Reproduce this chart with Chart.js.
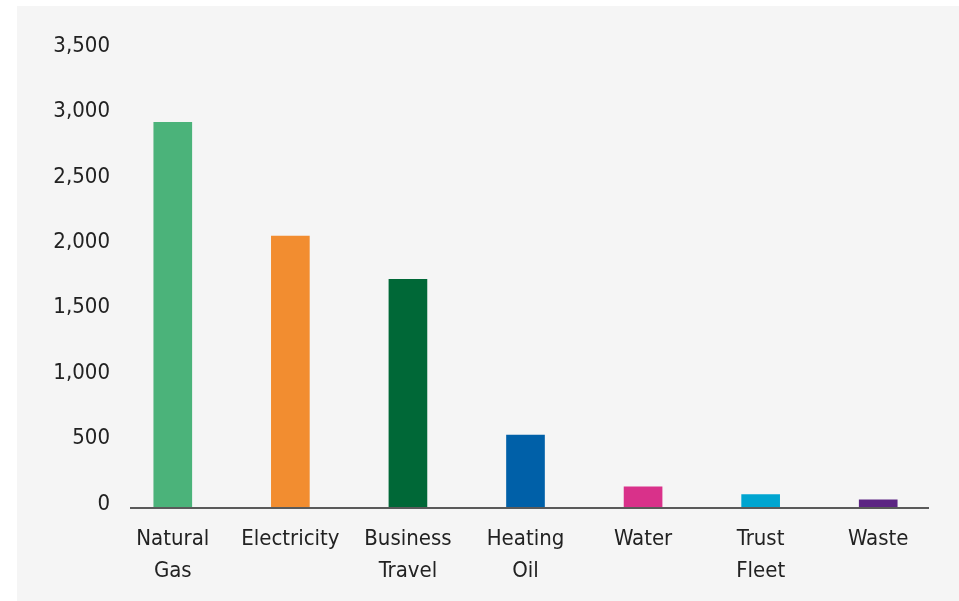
<!DOCTYPE html>
<html>
<head>
<meta charset="utf-8">
<script src="https://cdn.jsdelivr.net/npm/chart.js@4.4.1/dist/chart.umd.min.js"></script>
<style>
  html, body { margin: 0; padding: 0; background: #ffffff; }
  #wrap { position: absolute; left: 17px; top: 6px; width: 942px; height: 595px; background: #f5f5f5; }
</style>
</head>
<body>
<div id="wrap"><canvas id="emissionsChart" width="942" height="595"></canvas></div>
<script>
const categories = [['Natural', 'Gas'], 'Electricity', ['Business', 'Travel'], ['Heating', 'Oil'], 'Water', ['Trust', 'Fleet'], 'Waste'];
const emissions = [2940, 2070, 1740, 550, 155, 95, 55];
const barColours = ['#4bb37a', '#f28d30', '#006837', '#0060a8', '#d9318a', '#00a5d0', '#5c2583'];
const yTicks = [0, 500, 1000, 1500, 2000, 2500, 3000, 3500];

const fontFamily = '"Liberation Sans Narrow", "DejaVu Sans Condensed", sans-serif';

// baseline is shorter than the category band, so draw it by hand
const baseline = {
    id: 'baseline',
    afterDatasetsDraw(chart) {
        const ctx = chart.ctx;
        const area = chart.chartArea;
        const y = chart.scales.y.getPixelForValue(0);
        ctx.save();
        ctx.strokeStyle = '#5a5a5a';
        ctx.lineWidth = 2;
        ctx.beginPath();
        ctx.moveTo(area.left + 16, y + 1);
        ctx.lineTo(area.right - 8, y + 1);
        ctx.stroke();
        ctx.restore();
    }
};

const ctx = document.getElementById('emissionsChart').getContext('2d');
const emissionsChart = new Chart(ctx, {
    type: 'bar',
    data: {
        labels: categories,
        datasets: [{
            data: emissions,
            backgroundColor: barColours,
            barThickness: 38,
            borderWidth: 0
        }]
    },
    options: {
        responsive: false,
        animation: false,
        layout: { padding: { top: 43, right: 22, left: 0, bottom: 0 } },
        plugins: {
            legend: { display: false },
            tooltip: { enabled: false }
        },
        scales: {
            x: {
                grid: { display: false, drawTicks: false },
                border: { display: false },
                ticks: {
                    color: '#222222',
                    padding: 16,
                    maxRotation: 0,
                    autoSkip: false,
                    font: { family: fontFamily, size: 22, lineHeight: '32px' }
                },
                afterFit(scale) { scale.height = 94; }
            },
            y: {
                min: 0,
                max: 3500,
                grid: { display: false, drawTicks: false },
                border: { display: false },
                afterBuildTicks(scale) { scale.ticks = yTicks.map(v => ({ value: v })); },
                afterFit(scale) { scale.width = 97; },
                ticks: {
                    color: '#222222',
                    padding: 4,
                    labelOffset: -3,
                    font: { family: fontFamily, size: 22 },
                    callback: v => v.toLocaleString('en-US')
                }
            }
        }
    },
    plugins: [baseline]
});
</script>
</body>
</html>
